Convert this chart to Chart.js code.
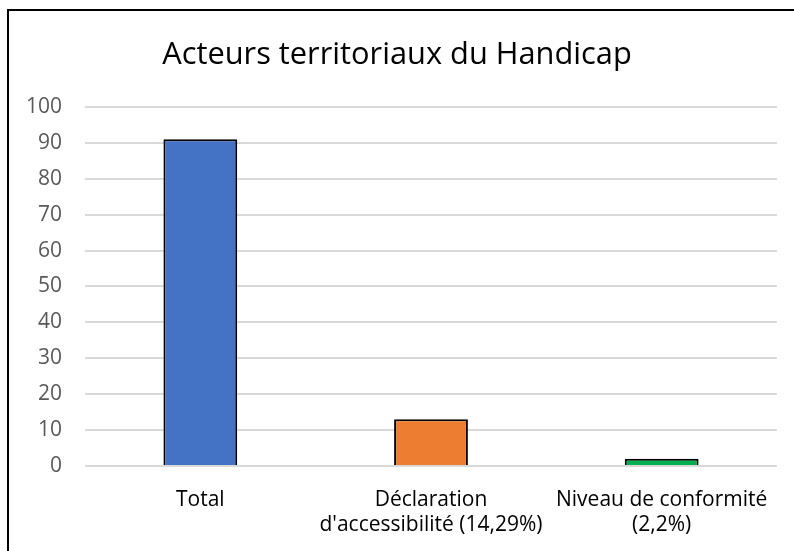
<!DOCTYPE html>
<html>
<head>
<meta charset="utf-8">
<script src="https://cdn.jsdelivr.net/npm/chart.js@4"></script>
<style>
  html, body { margin: 0; padding: 0; overflow: hidden; background: #fff; }
  #wrap { position: relative; width: 794px; height: 551px; }
  #frame { position: absolute; left: 7px; top: 9px; width: 900px; height: 700px;
           border: 2px solid #000; pointer-events: none; }
</style>
</head>
<body>
<div id="wrap">
  <canvas id="graph" width="794" height="551"></canvas>
  <div id="frame"></div>
</div>
<script>
var labels = [
  "Total",
  ["Déclaration", "d'accessibilité (14,29%)"],
  ["Niveau de conformité", "(2,2%)"]
];
var values = [91, 13, 2];
var colors = ["#4472C4", "#ED7D31", "#00B050"];
var yTicks = [0, 10, 20, 30, 40, 50, 60, 70, 80, 90, 100];

var graph = document.getElementById("graph");
var myChart = new Chart(graph, {
  type: "bar",
  data: {
    labels: labels,
    datasets: [{
      data: values,
      backgroundColor: colors,
      borderColor: "#000000",
      borderWidth: 2,
      barPercentage: 0.32,
      categoryPercentage: 1
    }]
  },
  options: {
    responsive: false,
    animation: false,
    layout: { padding: { left: 17, right: 17, top: 0, bottom: 0 } },
    plugins: {
      legend: { display: false },
      tooltip: { enabled: false },
      title: {
        display: true,
        text: "Acteurs territoriaux du Handicap",
        color: "#000000",
        font: { family: "Open Sans", size: 30.8, weight: "normal", lineHeight: 1.2 },
        padding: { top: 37, bottom: 33 }
      }
    },
    scales: {
      x: {
        grid: { display: false },
        border: { display: false },
        ticks: {
          color: "#000000",
          padding: 13,
          maxRotation: 0,
          autoSkip: false,
          font: { family: "Open Sans", size: 21, lineHeight: 1.2 }
        },
        afterFit: function(scale) { scale.height = 85; }
      },
      y: {
        min: 0,
        max: 100,
        afterBuildTicks: function(scale) {
          scale.ticks = yTicks.map(function(v) { return { value: v }; });
        },
        grid: { color: "#D9D9D9", lineWidth: 2, drawTicks: false },
        border: { display: false },
        ticks: {
          color: "#595959",
          padding: 23,
          font: { family: "Open Sans", size: 21 }
        },
        afterFit: function(scale) { scale.width = 68; }
      }
    }
  }
});
</script>
</body>
</html>
